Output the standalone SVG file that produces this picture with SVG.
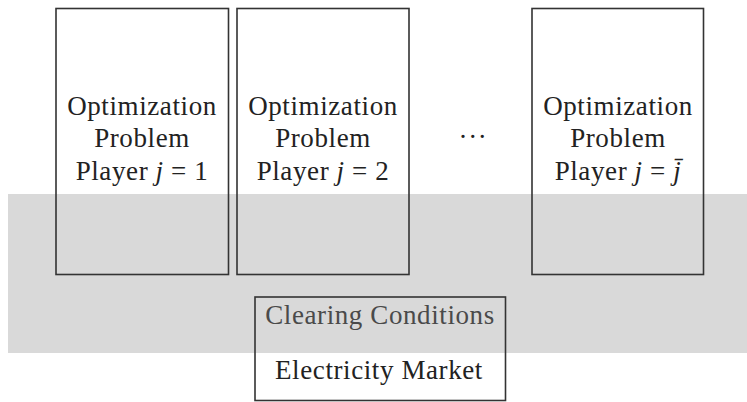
<svg xmlns="http://www.w3.org/2000/svg" width="747" height="402" viewBox="0 0 747 402">
  <style>
    .box { fill: none; stroke: #333333; stroke-width: 1.6; }
    .lbl { font-family: "Liberation Serif", "Times New Roman", serif; font-size: 27px; fill: #222222; text-anchor: middle; letter-spacing: 0.6px; }
    .soft { fill: #4a4a4a; }
    .it { font-style: italic; }
  </style>
  <rect width="747" height="402" fill="#ffffff"/>
  <!-- shared market layer -->
  <rect id="market-layer" x="8" y="194" width="739" height="159" fill="#d9d9d9"/>

  <g id="player1">
    <rect class="box" x="56" y="8.5" width="172.5" height="266"/>
    <text class="lbl" x="142" y="115">Optimization</text>
    <text class="lbl" x="142" y="147">Problem</text>
    <text class="lbl" x="142" y="180">Player <tspan class="it">j</tspan> = 1</text>
  </g>

  <g id="player2">
    <rect class="box" x="237" y="8.5" width="172" height="266"/>
    <text class="lbl" x="323" y="115">Optimization</text>
    <text class="lbl" x="323" y="147">Problem</text>
    <text class="lbl" x="323" y="180">Player <tspan class="it">j</tspan> = 2</text>
  </g>

  <g id="ellipsis">
    <text class="lbl" x="473" y="146">···</text>
  </g>

  <g id="playerJ">
    <rect class="box" x="532" y="8.5" width="171.5" height="266"/>
    <text class="lbl" x="618" y="115">Optimization</text>
    <text class="lbl" x="618" y="147">Problem</text>
    <text class="lbl" x="618" y="180">Player <tspan class="it">j</tspan> = <tspan class="it">j̄</tspan></text>
  </g>

  <g id="market">
    <rect class="box" x="255" y="297" width="250.5" height="103.5"/>
    <text class="lbl soft" x="380" y="324">Clearing Conditions</text>
    <text class="lbl" x="379" y="379">Electricity Market</text>
  </g>

  <g id="connectors"/>
</svg>
